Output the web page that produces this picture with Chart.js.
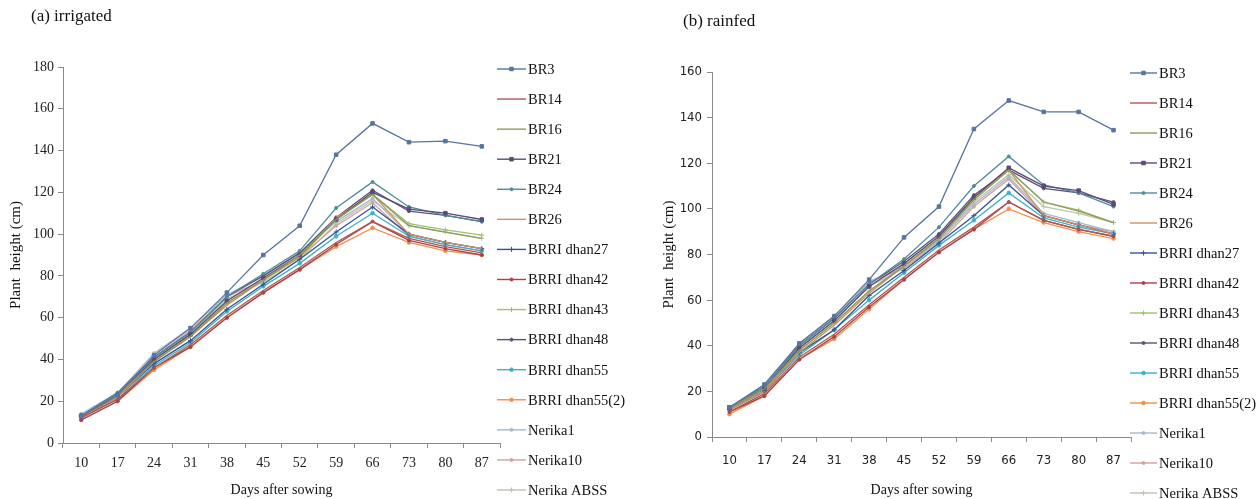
<!DOCTYPE html>
<html><head><meta charset="utf-8">
<script src="https://cdn.jsdelivr.net/npm/chart.js@4.4.1/dist/chart.umd.min.js"></script>
<style>
html,body{margin:0;padding:0;background:#fff;width:1259px;height:499px;overflow:hidden}
.w{position:absolute;top:0;height:499px}
#w1{left:0;width:630px}
#w2{left:630px;width:629px}
canvas{display:block}
</style></head><body>
<div class="w" id="w1"><canvas id="c1" width="630" height="499"></canvas></div>
<div class="w" id="w2"><canvas id="c2" width="629" height="499"></canvas></div>
<script>
// ---- categories ----
const days = ['10','17','24','31','38','45','52','59','66','73','80','87'];
const varieties = ['BR3','BR14','BR16','BR21','BR24','BR26','BRRI dhan27','BRRI dhan42','BRRI dhan43','BRRI dhan48','BRRI dhan55','BRRI dhan55(2)','Nerika1','Nerika10','Nerika ABSS'];
const yTicksIrrigated = [0,20,40,60,80,100,120,140,160,180];
const yTicksRainfed = [0,20,40,60,80,100,120,140,160];

// ---- (a) irrigated: plant height (cm) ----
const irrBR3        = [13, 23, 42, 55, 72, 90, 104, 138, 153, 144, 144.5, 142];
const irrBR14       = [12, 21, 36, 47, 61, 73, 84, 96, 106, 98, 94, 91];
const irrBR16       = [13, 23, 39, 51, 67, 78, 90, 107, 119, 104, 101, 98];
const irrBR21       = [13, 23, 40, 52, 68, 79, 90, 107, 120, 112, 110, 107];
const irrBR24       = [13, 24, 41, 53, 70, 81, 92, 112.5, 125, 113, 109, 106];
const irrBR26       = [12, 22, 39, 51, 66, 78, 89, 108, 119, 100, 96, 93];
const irrDhan27     = [13, 22, 38, 49, 64, 76, 88, 101, 113, 100, 96, 93];
const irrDhan42     = [11, 20, 36, 46, 60, 72, 83, 95, 106, 97, 93, 90];
const irrDhan43     = [13, 23, 39, 51, 67, 78, 89, 107, 119, 105, 102, 99.5];
const irrDhan48     = [13, 24, 41, 53, 70, 80, 91, 108, 121, 111, 109, 106];
const irrDhan55     = [12, 21, 37, 48, 63, 75, 86, 99, 110, 99, 95, 92];
const irrDhan55b    = [11, 20, 35, 46, 60, 72, 83, 94, 103, 96, 92, 90];
const irrNerika1    = [14, 24, 43, 55, 71, 80, 91, 106, 117, 100, 96, 93];
const irrNerika10   = [13, 23, 41, 54, 70, 78, 89, 104, 115, 99, 95, 92];
const irrNerikaABSS = [12, 22, 40, 52, 69, 77, 88, 105, 116, 104, 101, 98];

// ---- (b) rainfed: plant height (cm) ----
const rfBR3        = [13, 23, 41, 53, 69, 87.5, 101, 135, 147.5, 142.5, 142.5, 134.5];
const rfBR14       = [11, 19, 35, 45, 58, 70, 82, 92, 103, 95, 91, 88];
const rfBR16       = [13, 21, 38, 50, 64, 75, 87, 104, 117, 103, 99, 94];
const rfBR21       = [13, 21, 39, 51, 66, 76, 88, 105, 118, 110, 108, 102];
const rfBR24       = [13, 22, 40, 52, 67, 78, 92, 110, 123, 110.5, 107, 101];
const rfBR26       = [12, 20, 37, 49, 63, 75, 87, 105, 117, 97, 93, 89];
const rfDhan27     = [12, 20, 37, 47, 62, 73, 85, 97, 110.5, 97, 93, 89];
const rfDhan42     = [11, 18, 34, 44, 57, 69, 81, 91, 103, 95, 91, 88];
const rfDhan43     = [13, 21, 38, 50, 64, 75, 87, 104, 117, 103, 99.5, 94];
const rfDhan48     = [13, 22, 40, 52, 67, 77, 89, 106, 117, 109, 107, 103];
const rfDhan55     = [12, 20, 36, 47, 60, 72, 84, 95, 107, 96, 92, 89];
const rfDhan55b    = [10, 18, 34, 43, 56, 69, 81, 91, 100, 94, 90, 87];
const rfNerika1    = [13, 22, 41, 53, 68, 75, 86, 102, 114, 98, 94, 90];
const rfNerika10   = [12, 23, 40, 52, 68, 74, 85, 101, 113, 97, 93, 90];
const rfNerikaABSS = [12, 21, 39, 51, 66, 74, 86, 103, 115, 101, 98, 94];

const irrigatedSeries = [irrBR3, irrBR14, irrBR16, irrBR21, irrBR24, irrBR26, irrDhan27, irrDhan42, irrDhan43, irrDhan48, irrDhan55, irrDhan55b, irrNerika1, irrNerika10, irrNerikaABSS];
const rainfedSeries = [rfBR3, rfBR14, rfBR16, rfBR21, rfBR24, rfBR26, rfDhan27, rfDhan42, rfDhan43, rfDhan48, rfDhan55, rfDhan55b, rfNerika1, rfNerika10, rfNerikaABSS];

// ---- styles ----
const colours = ['#5874a0','#b4564f','#8f9a5c','#5c4a7a','#4f8c9a','#d09060','#2f5597','#a8404f','#9fc070','#5a5275','#3fb0c8','#f0904a','#a8b8cc','#d4a0a0','#b8c8a8'];
const markers = [['rect',2.5],['circle',0],['circle',0],['rect',2.5],['circle',1.5],['circle',0],['cross',2.5],['circle',1.5],['cross',2.5],['circle',1.5],['circle',1.8],['circle',1.8],['circle',1.5],['circle',1.5],['cross',2.5]];

const SERIF = '"Liberation Serif", "Times New Roman", serif';
const NARROW = '"DejaVu Sans Condensed", "Liberation Sans Narrow", "Liberation Sans", Arial, sans-serif';

const decor = {
  id: 'decor',
  afterDraw(chart, args, o) {
    const ctx = chart.ctx;
    ctx.save();
    ctx.textBaseline = 'middle';
    ctx.textAlign = 'left';
    ctx.fillStyle = '#111';
    ctx.font = o.titleFont;
    ctx.fillText(o.title, o.titleX, o.titleY);
    ctx.font = o.legendFont;
    chart.data.datasets.forEach((ds, i) => {
      const y = o.legY + i * o.legStep;
      ctx.strokeStyle = ds.borderColor;
      ctx.fillStyle = ds.borderColor;
      ctx.lineWidth = 1.4;
      ctx.beginPath(); ctx.moveTo(o.legX, y); ctx.lineTo(o.legX + o.legLen, y); ctx.stroke();
      if (ds.pointRadius > 0) {
        ctx.lineWidth = 1;
        Chart.helpers.drawPoint(ctx, {pointStyle: ds.pointStyle, radius: ds.pointRadius, borderWidth: 1, rotation: 0}, o.legX + o.legLen / 2, y);
      }
      ctx.fillStyle = '#111';
      ctx.fillText(ds.label, o.legX + o.legLen + 2, y + 1);
    });
    ctx.restore();
  }
};

function makeChart(id, series, yTicks, cfg) {
  const datasets = series.map((vals, i) => ({
    label: varieties[i],
    data: vals,
    borderColor: colours[i],
    backgroundColor: colours[i],
    borderWidth: 1.3,
    pointStyle: markers[i][0],
    pointRadius: markers[i][1],
    pointBorderWidth: 1,
    tension: 0,
    fill: false
  }));
  const yMax = yTicks[yTicks.length - 1];
  return new Chart(document.getElementById(id), {
    type: 'line',
    data: {labels: days, datasets},
    plugins: [decor],
    options: {
      responsive: false,
      animation: false,
      devicePixelRatio: 1,
      layout: {padding: {top: cfg.top, right: cfg.right, bottom: 0, left: 0}},
      plugins: {
        legend: {display: false},
        tooltip: {enabled: false},
        decor: cfg.decor
      },
      scales: {
        x: {
          type: 'category',
          offset: true,
          grid: {display: true, drawOnChartArea: false, drawTicks: true, tickLength: 5, offset: true, color: '#8a8a8a'},
          border: {display: true, color: '#8a8a8a', width: 1},
          ticks: {font: {family: cfg.tickFamily, size: cfg.tickSize}, color: '#222', padding: cfg.xPad, maxRotation: 0, autoSkip: false},
          title: {display: true, text: 'Days after sowing', font: {family: SERIF, size: 14}, color: '#111', padding: {top: 0, bottom: 0}},
          afterFit(s) { s.height = cfg.xH; }
        },
        y: {
          min: 0, max: yMax,
          afterBuildTicks(s) { s.ticks = yTicks.map(v => ({value: v})); },
          grid: {display: true, drawOnChartArea: false, drawTicks: true, tickLength: 5, color: '#8a8a8a'},
          border: {display: true, color: '#8a8a8a', width: 1},
          ticks: {font: {family: cfg.tickFamily, size: cfg.tickSize}, color: '#222', padding: cfg.yPad},
          title: {display: true, text: 'Plant  height (cm)', font: {family: SERIF, size: 15}, color: '#111', padding: {top: cfg.yTitlePad, bottom: 0}},
          afterFit(s) { s.width = cfg.yW; }
        }
      }
    }
  });
}

makeChart('c1', irrigatedSeries, yTicksIrrigated, {
  top: 67, right: 130, xH: 56, yW: 63, xPad: 7, yPad: 4, yTitlePad: 7, tickFamily: SERIF, tickSize: 14,
  decor: {title: '(a) irrigated', titleX: 31, titleY: 17, titleFont: '17px ' + SERIF,
          legendFont: '14.5px ' + SERIF, legX: 497, legLen: 29, legY: 69, legStep: 30.07}
});
makeChart('c2', rainfedSeries, yTicksRainfed, {
  top: 72, right: 128, xH: 62, yW: 82, xPad: 11, yPad: 5, yTitlePad: 30, tickFamily: NARROW, tickSize: 13,
  decor: {title: '(b) rainfed', titleX: 53, titleY: 22, titleFont: '17px ' + SERIF,
          legendFont: '14.5px ' + SERIF, legX: 500, legLen: 27, legY: 73, legStep: 30}
});
</script>
</body></html>
